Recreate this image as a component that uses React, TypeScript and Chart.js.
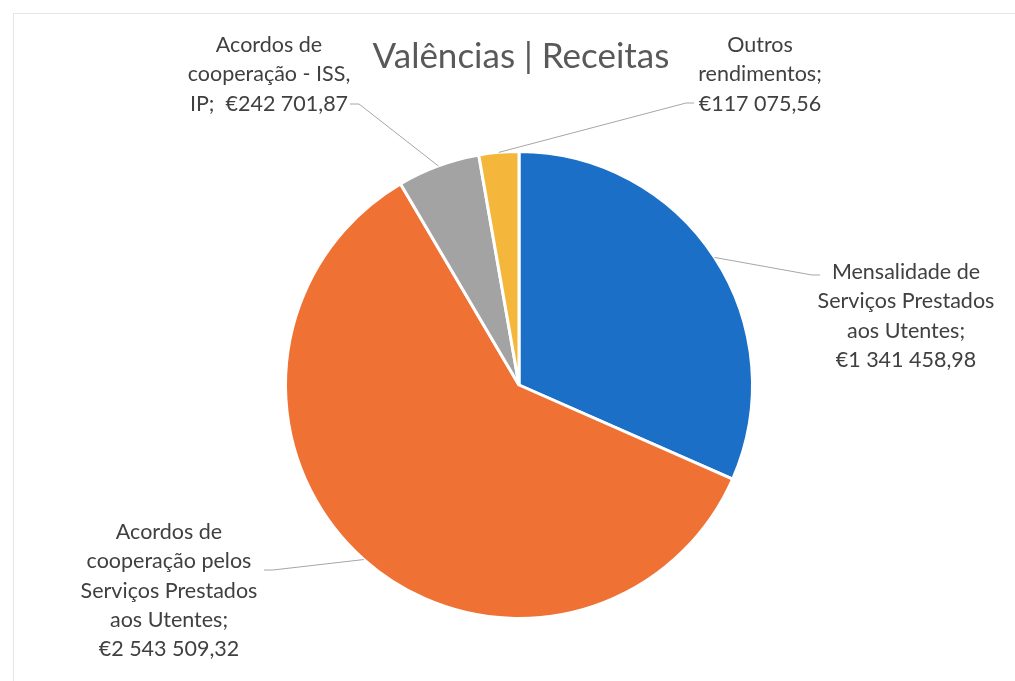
import React, { useEffect, useRef } from "react";
import { Chart, registerables } from "chart.js";

Chart.register(...registerables);

const title = "Valências | Receitas";
const categories = [
  "Mensalidade de Serviços Prestados aos Utentes",
  "Acordos de cooperação pelos Serviços Prestados aos Utentes",
  "Acordos de cooperação - ISS, IP",
  "Outros rendimentos",
];
const values = [1341458.98, 2543509.32, 242701.87, 117075.56];
const valueTexts = ["€1 341 458,98", "€2 543 509,32", "€242 701,87", "€117 075,56"];
const labelLines = [
  ["Mensalidade de", "Serviços Prestados", "aos Utentes;", valueTexts[0]],
  ["Acordos de", "cooperação pelos", "Serviços Prestados", "aos Utentes;", valueTexts[1]],
  ["Acordos de", "cooperação - ISS,", "IP;  " + valueTexts[2]],
  ["Outros", "rendimentos;", valueTexts[3]],
];
const colors = ["#1b6fc6", "#ef7234", "#a3a3a3", "#f5b73b"];

// layout: label block centre x, first-line baseline y, leader start point
const labelLayout = [
  { cx: 906, y0: 279, lx: 820, ly: 275, side: "right" },
  { cx: 169, y0: 539, lx: 264, ly: 570, side: "left" },
  { cx: 269, y0: 52, lx: 350, ly: 104, side: "left" },
  { cx: 760, y0: 52, lx: 694, ly: 103, side: "right" },
];
const LINE_H = 29.3;
const FONT = "Lato, 'Open Sans', sans-serif";

const labelPlugin = {
  id: "pieLabels",
  afterDatasetsDraw(chart: any) {
    const ctx = chart.ctx;
    const meta = chart.getDatasetMeta(0);
    ctx.save();
    meta.data.forEach((arc: any, i: number) => {
      const L = labelLayout[i];
      const mid = (arc.startAngle + arc.endAngle) / 2;
      const ex = arc.x + Math.cos(mid) * arc.outerRadius;
      const ey = arc.y + Math.sin(mid) * arc.outerRadius;
      ctx.strokeStyle = "#a6a6a6";
      ctx.lineWidth = 1;
      ctx.beginPath();
      const hx = L.side === "left" ? L.lx + 9 : L.lx - 8;
      ctx.moveTo(L.lx, L.ly);
      ctx.lineTo(hx, L.ly);
      ctx.lineTo(ex, ey);
      ctx.stroke();
      ctx.fillStyle = "#404040";
      ctx.font = "21.5px " + FONT;
      ctx.textAlign = "center";
      ctx.textBaseline = "alphabetic";
      labelLines[i].forEach((t, k) => {
        ctx.fillText(t, L.cx, L.y0 + k * LINE_H);
      });
    });
    ctx.fillStyle = "#595959";
    ctx.font = "35px " + FONT;
    ctx.textAlign = "center";
    ctx.textBaseline = "alphabetic";
    ctx.fillText(title, 521, 68);
    ctx.strokeStyle = "#e6e6e6";
    ctx.lineWidth = 1;
    ctx.strokeRect(13.5, 13.5, 1015, 700);
    ctx.restore();
  },
};

export default function App() {
  const ref = useRef<HTMLCanvasElement | null>(null);
  useEffect(() => {
    document.body.style.margin = "0";
    const chart = new Chart(ref.current as HTMLCanvasElement, {
      type: "pie",
      data: {
        labels: categories,
        datasets: [
          {
            data: values,
            backgroundColor: colors,
            borderColor: "#ffffff",
            borderWidth: 3,
          },
        ],
      },
      options: {
        responsive: false,
        animation: false,
        layout: { padding: { top: 150, bottom: 61, left: 284, right: 261 } },
        plugins: {
          legend: { display: false },
          tooltip: { enabled: false },
          title: { display: false },
        },
      },
      plugins: [labelPlugin],
    });
    return () => chart.destroy();
  }, []);
  return (
    <div style={{ width: 1015, height: 681, background: "#fff" }}>
      <canvas ref={ref} width={1015} height={681} style={{ display: "block" }} />
    </div>
  );
}
